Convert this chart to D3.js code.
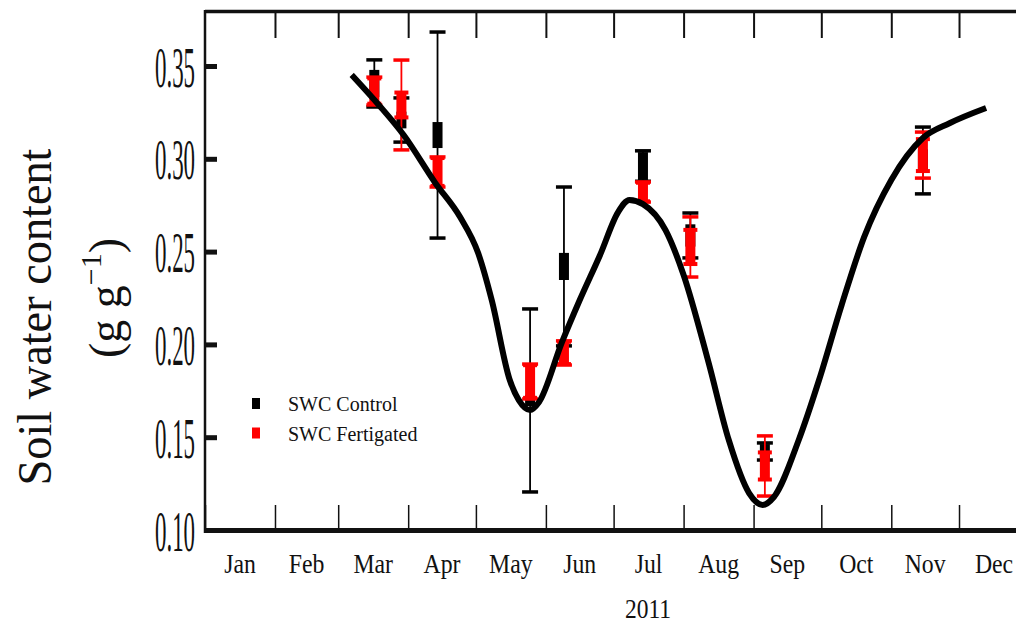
<!DOCTYPE html>
<html>
<head>
<meta charset="utf-8">
<script src="https://cdn.jsdelivr.net/npm/d3@7"></script>
<style>
  body { margin: 0; background: #fff; }
  text { font-family: "Liberation Serif", "Times New Roman", serif; fill: #111; }
</style>
</head>
<body>
<script>
// sample dates and soil water content (mean, whisker half-width, box half-height)
var sampleDates = ["2011-03-17", "2011-03-29", "2011-04-14", "2011-05-25", "2011-06-09",
                   "2011-07-14", "2011-08-04", "2011-09-06", "2011-11-15"];
var controlMean = [0.3406, 0.3209, 0.3128, 0.1698, 0.2420, 0.2961, 0.2587, 0.1423, 0.2991];
var controlErr  = [0.0127, 0.0119, 0.0555, 0.0493, 0.0428, 0.0082, 0.0121, 0.0046, 0.0180];
var controlBox  = [0.0073, 0.0045, 0.0070, 0.0030, 0.0073, 0.0075, 0.0060, 0.0040, 0.0060];
var fertMean = [0.3365, 0.3290, 0.2929, 0.1800, 0.1954, 0.2821, 0.2525, 0.1345, 0.3020];
var fertErr  = [0.0075, 0.0242, 0.0081, 0.0094, 0.0065, 0.0054, 0.0162, 0.0162, 0.0124];
var fertBox  = [0.0068, 0.0067, 0.0075, 0.0088, 0.0060, 0.0050, 0.0092, 0.0073, 0.0086];

// fitted curve
var fitDates = ["2011-03-07", "2011-03-19", "2011-03-30", "2011-04-13", "2011-04-24", "2011-05-02",
                "2011-05-08", "2011-05-16", "2011-05-20", "2011-05-25", "2011-05-29", "2011-06-08",
                "2011-06-16", "2011-06-25", "2011-07-03", "2011-07-08", "2011-07-14", "2011-07-24",
                "2011-08-01", "2011-08-12", "2011-08-21", "2011-08-30", "2011-09-05", "2011-09-10",
                "2011-09-21", "2011-09-30", "2011-10-10", "2011-10-20", "2011-11-01", "2011-11-15",
                "2011-11-27", "2011-12-13"];
var fitValues = [0.3452, 0.3290, 0.3128, 0.2870, 0.2686, 0.2492,
                 0.2239, 0.1808, 0.1700, 0.1647, 0.1690, 0.2008,
                 0.2239, 0.2482, 0.2713, 0.2778, 0.2756, 0.2616,
                 0.2374, 0.1905, 0.1485, 0.1199, 0.1135, 0.1178,
                 0.1485, 0.1808, 0.2212, 0.2579, 0.2886, 0.3112,
                 0.3193, 0.3274];

var monthLabels = ["Jan", "Feb", "Mar", "Apr", "May", "Jun", "Jul", "Aug", "Sep", "Oct", "Nov", "Dec"];
var yTicks = [0.10, 0.15, 0.20, 0.25, 0.30, 0.35];
var legendLabels = ["SWC Control", "SWC Fertigated"];

var parse = d3.timeParse("%Y-%m-%d");

var svg = d3.select("body").append("svg")
            .attr("width", 1016)
            .attr("height", 624)

var x = d3.scaleTime()
    .domain([new Date(2011, 0, 1), new Date(2012, 0, 1)])
    .range([205, 1029]);
var y = d3.scaleLinear()
    .domain([0.10, 0.35])
    .range([530, 66]);

// squeeze text horizontally like the condensed original
function squeeze(sel, f) {
    sel.each(function() {
        var w = this.getComputedTextLength();
        d3.select(this).attr("textLength", w * f).attr("lengthAdjust", "spacingAndGlyphs");
    });
}

// bottom axis ticks (point up into plot)
var months = d3.timeMonth.range(new Date(2011, 0, 1), new Date(2012, 0, 1));
svg.append("g")
    .attr("transform", "translate(0,530)")
    .call(d3.axisBottom(x).tickValues(months).tickSize(-25).tickFormat(""))
    .call(function(g) {
        g.select(".domain").remove();
        g.selectAll("line").attr("stroke", "#111").attr("stroke-width", 1.5);
    });
// top ticks (point down)
svg.append("g")
    .attr("transform", "translate(0,12)")
    .call(d3.axisTop(x).tickValues(months.slice(1)).tickSize(-26).tickFormat(""))
    .call(function(g) {
        g.select(".domain").remove();
        g.selectAll("line").attr("stroke", "#111").attr("stroke-width", 2);
    });

// frame lines
svg.append("line").attr("x1", 205).attr("x2", 1016).attr("y1", 11.5).attr("y2", 11.5)
    .attr("stroke", "#111").attr("stroke-width", 3.5);
svg.append("line").attr("x1", 205).attr("x2", 1016).attr("y1", 530.5).attr("y2", 530.5)
    .attr("stroke", "#111").attr("stroke-width", 5);
svg.append("line").attr("x1", 205).attr("x2", 205).attr("y1", 10).attr("y2", 533)
    .attr("stroke", "#111").attr("stroke-width", 2.5);

// left axis
var yAxis = svg.append("g")
    .attr("transform", "translate(205,0)")
    .call(d3.axisLeft(y).tickValues(yTicks).tickSize(-12).tickPadding(10).tickFormat(d3.format(".2f")));
yAxis.select(".domain").remove();
yAxis.selectAll("line").attr("stroke", "#111").attr("stroke-width", 5);
yAxis.selectAll("text")
    .attr("font-family", "Liberation Serif, serif")
    .attr("font-size", 58)
    .attr("dy", null)
    .attr("y", 20)
    .attr("fill", "#222")
    .attr("textLength", 40)
    .attr("lengthAdjust", "spacingAndGlyphs");

// month labels centred in each month
svg.selectAll(".mlab")
    .data(monthLabels)
    .enter()
    .append("text")
    .attr("class", "mlab")
    .attr("text-anchor", "middle")
    .attr("font-size", 27)
    .attr("x", function(d, i) {
        return (x(new Date(2011, i, 1)) + x(new Date(2011, i + 1, 1))) / 2;
    })
    .attr("y", 573)
    .text(function(d) { return d; })
    .call(squeeze, 0.88);

svg.append("text")
    .attr("text-anchor", "middle")
    .attr("font-size", 27)
    .attr("x", 648)
    .attr("y", 618)
    .text("2011")
    .call(squeeze, 0.87);

// y title
svg.append("text")
    .attr("transform", "translate(51,317) rotate(-90)")
    .attr("text-anchor", "middle")
    .attr("font-size", 48)
    .text("Soil water content")
    .attr("textLength", 337)
    .attr("lengthAdjust", "spacingAndGlyphs");
var unit = svg.append("text")
    .attr("transform", "translate(121,298) rotate(-90)")
    .attr("text-anchor", "middle")
    .attr("font-size", 46);
unit.append("tspan").text("(g g");
unit.append("tspan").attr("font-size", 30).attr("dy", -20).text("\u22121");
unit.append("tspan").attr("dy", 20).text(")");

// error bars + boxes
function drawSeries(mean, err, box, color, boxCaps) {
    var g = svg.append("g");
    var pts = g.selectAll("g")
        .data(sampleDates.map(function(d, i) {
            return { x: x(parse(d)), m: mean[i], e: err[i], b: box[i] };
        }))
        .enter()
        .append("g");
    pts.append("line")
        .attr("x1", function(d) { return d.x; })
        .attr("x2", function(d) { return d.x; })
        .attr("y1", function(d) { return y(d.m + d.e); })
        .attr("y2", function(d) { return y(d.m - d.e); })
        .attr("stroke", color).attr("stroke-width", 1.8);
    [1, -1].forEach(function(s) {
        pts.append("line")
            .attr("x1", function(d) { return d.x - 8; })
            .attr("x2", function(d) { return d.x + 8; })
            .attr("y1", function(d) { return y(d.m + s * d.e); })
            .attr("y2", function(d) { return y(d.m + s * d.e); })
            .attr("stroke", color).attr("stroke-width", 3.5);
    });
    pts.append("rect")
        .attr("x", function(d) { return d.x - 5; })
        .attr("width", 10)
        .attr("y", function(d) { return y(d.m + d.b); })
        .attr("height", function(d) { return y(d.m - d.b) - y(d.m + d.b); })
        .attr("fill", color);
    if (boxCaps) {
        [1, -1].forEach(function(s) {
            pts.append("line")
                .attr("x1", function(d) { return d.x - 7; })
                .attr("x2", function(d) { return d.x + 7; })
                .attr("y1", function(d) { return y(d.m + s * d.b); })
                .attr("y2", function(d) { return y(d.m + s * d.b); })
                .attr("stroke", color).attr("stroke-width", 4);
        });
    }
}
drawSeries(controlMean, controlErr, controlBox, "#000", false);
drawSeries(fertMean, fertErr, fertBox, "#ff0000", true);

// fitted curve
var line = d3.line()
    .x(function(d) { return x(d.date); })
    .y(function(d) { return y(d.v); })
    .curve(d3.curveMonotoneX);
svg.append("path")
    .datum(fitDates.map(function(d, i) { return { date: parse(d), v: fitValues[i] }; }))
    .attr("d", line)
    .attr("fill", "none")
    .attr("stroke", "#000")
    .attr("stroke-width", 6)
    .attr("stroke-linejoin", "round");

// legend
var legColors = ["#000", "#ff0000"];
var leg = svg.selectAll(".leg")
    .data(legendLabels)
    .enter()
    .append("g")
    .attr("class", "leg")
    .attr("transform", function(d, i) { return "translate(0," + (i * 29.5) + ")"; });
leg.append("rect")
    .attr("x", 252).attr("y", 398)
    .attr("width", 8).attr("height", 11)
    .attr("fill", function(d, i) { return legColors[i]; });
leg.append("text")
    .attr("x", 288).attr("y", 411)
    .attr("font-size", 20)
    .text(function(d) { return d; });
</script>
</body>
</html>
